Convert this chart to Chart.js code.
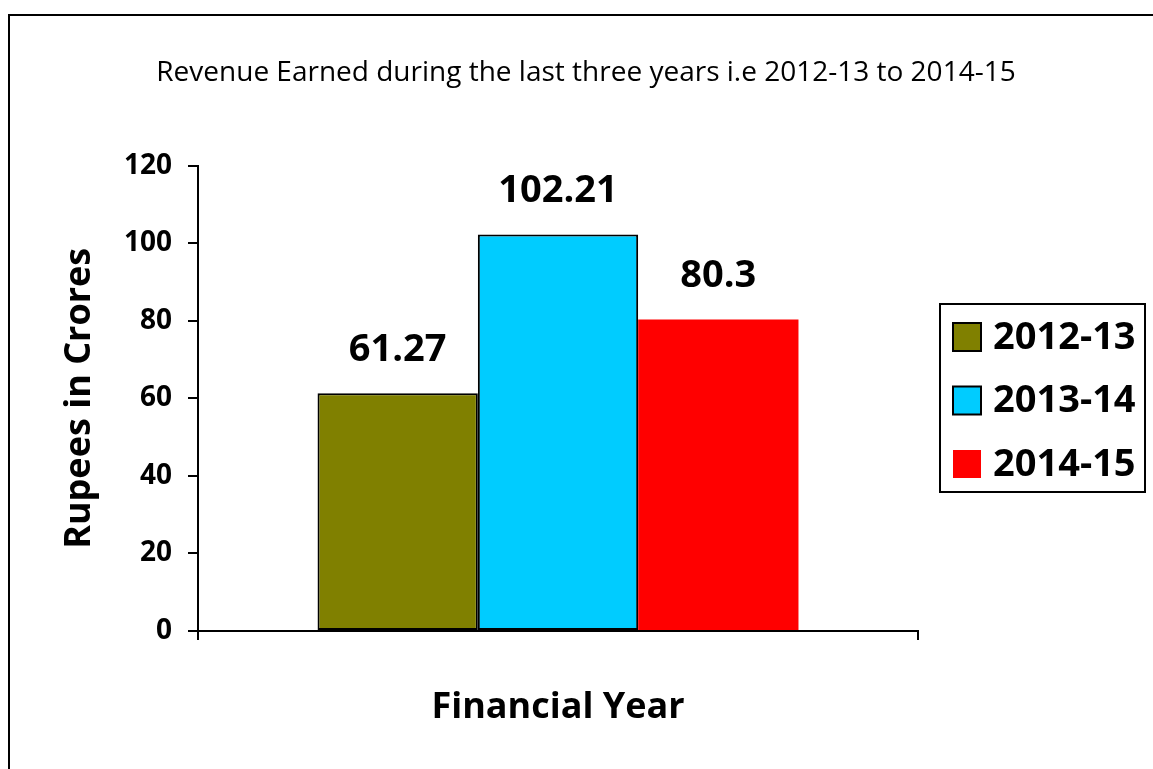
<!DOCTYPE html>
<html>
<head>
    <title>Revenue Earned</title>
    <script src="https://cdn.jsdelivr.net/npm/chart.js"></script>
    <style>
        html, body { margin: 0; padding: 0; background: #fff; }
    </style>
</head>
<body>
    <canvas id="myChart" width="1153" height="769"></canvas>
    <script>
        const years = ['2012-13', '2013-14', '2014-15'];
        const revenue = [61.27, 102.21, 80.3];
        const barColors = ['#808000', '#00CCFF', '#FF0000'];
        const barBorders = [2, 2, 0];
        const yMax = 120;
        const yStep = 20;

        const FONT = 'Open Sans';

        // page frame (top and left edges only are visible)
        const framePlugin = {
            id: 'frame',
            beforeDraw(chart) {
                const ctx = chart.ctx;
                ctx.save();
                ctx.fillStyle = '#fff';
                ctx.fillRect(0, 0, chart.width, chart.height);
                ctx.strokeStyle = '#000';
                ctx.lineWidth = 2;
                ctx.beginPath();
                ctx.moveTo(chart.width, 15);
                ctx.lineTo(9, 15);
                ctx.lineTo(9, chart.height);
                ctx.stroke();
                ctx.restore();
            }
        };

        // value above each bar
        const valueLabels = {
            id: 'valueLabels',
            afterDatasetsDraw(chart) {
                const ctx = chart.ctx;
                ctx.save();
                ctx.font = 'bold 38px "' + FONT + '"';
                ctx.fillStyle = '#000';
                ctx.textAlign = 'center';
                ctx.textBaseline = 'middle';
                chart.data.datasets.forEach((ds, i) => {
                    chart.getDatasetMeta(i).data.forEach((bar, j) => {
                        ctx.fillText(String(ds.data[j]), bar.x, bar.y - 43);
                    });
                });
                ctx.restore();
            }
        };

        // boxed legend to the right of the plot
        const boxLegend = {
            id: 'boxLegend',
            afterDraw(chart) {
                const ctx = chart.ctx;
                const left = chart.chartArea.right + 22;
                const top = 304;
                ctx.save();
                ctx.strokeStyle = '#000';
                ctx.lineWidth = 2;
                ctx.strokeRect(left, top, 205, 188);
                ctx.font = 'bold 38px "' + FONT + '"';
                ctx.textBaseline = 'middle';
                ctx.textAlign = 'left';
                chart.data.datasets.forEach((ds, i) => {
                    const cy = top + 33 + i * 63.5;
                    ctx.fillStyle = ds.backgroundColor;
                    ctx.fillRect(left + 13, cy - 14, 28, 28);
                    if (ds.borderWidth > 0) {
                        ctx.lineWidth = 2;
                        ctx.strokeRect(left + 13, cy - 14, 28, 28);
                    }
                    ctx.fillStyle = '#000';
                    ctx.fillText(ds.label, left + 53, cy + 1);
                });
                ctx.restore();
            }
        };

        const datasets = years.map((y, i) => ({
            label: y,
            data: [revenue[i]],
            backgroundColor: barColors[i],
            borderColor: '#000',
            borderWidth: barBorders[i],
            borderSkipped: false,
            categoryPercentage: 0.668,
            barPercentage: 1
        }));

        const ctx = document.getElementById('myChart').getContext('2d');
        const myChart = new Chart(ctx, {
            type: 'bar',
            data: {
                labels: [''],
                datasets: datasets
            },
            options: {
                responsive: false,
                animation: false,
                layout: { padding: { left: 19, right: 0, top: 0, bottom: 0 } },
                plugins: {
                    legend: { display: false },
                    tooltip: { enabled: false },
                    title: {
                        display: true,
                        text: 'Revenue Earned during the last three years i.e 2012-13 to 2014-15',
                        color: '#000',
                        font: { family: FONT, size: 28, weight: 'normal' },
                        padding: { top: 56, bottom: 76 }
                    }
                },
                scales: {
                    x: {
                        offset: true,
                        grid: { display: true, offset: true, drawOnChartArea: false, tickLength: 9, color: '#000', lineWidth: 2 },
                        border: { display: true, color: '#000', width: 2 },
                        ticks: { display: false },
                        title: {
                            display: true,
                            text: 'Financial Year',
                            color: '#000',
                            font: { family: FONT, size: 36, weight: 'bold' },
                            padding: { top: 0, bottom: 40 }
                        },
                        afterFit: (scale) => { scale.height = 138; }
                    },
                    y: {
                        min: 0,
                        max: yMax,
                        ticks: {
                            stepSize: yStep,
                            color: '#000',
                            padding: 16,
                            font: { family: FONT, size: 28, weight: 'bold' }
                        },
                        grid: { drawOnChartArea: false, tickLength: 10, color: '#000', lineWidth: 2 },
                        border: { display: true, color: '#000', width: 2 },
                        title: {
                            display: true,
                            text: 'Rupees in Crores',
                            color: '#000',
                            font: { family: FONT, size: 36, weight: 'bold' },
                            padding: { top: 39, bottom: 0 }
                        },
                        afterFit: (scale) => { scale.width = 179; }
                    },
                    // keeps room for the boxed legend on the right
                    side: {
                        type: 'linear',
                        position: 'right',
                        grid: { display: false },
                        border: { display: false },
                        ticks: { display: false },
                        afterFit: (scale) => { scale.width = 235; }
                    }
                }
            },
            plugins: [framePlugin, valueLabels, boxLegend]
        });
    </script>
</body>
</html>
